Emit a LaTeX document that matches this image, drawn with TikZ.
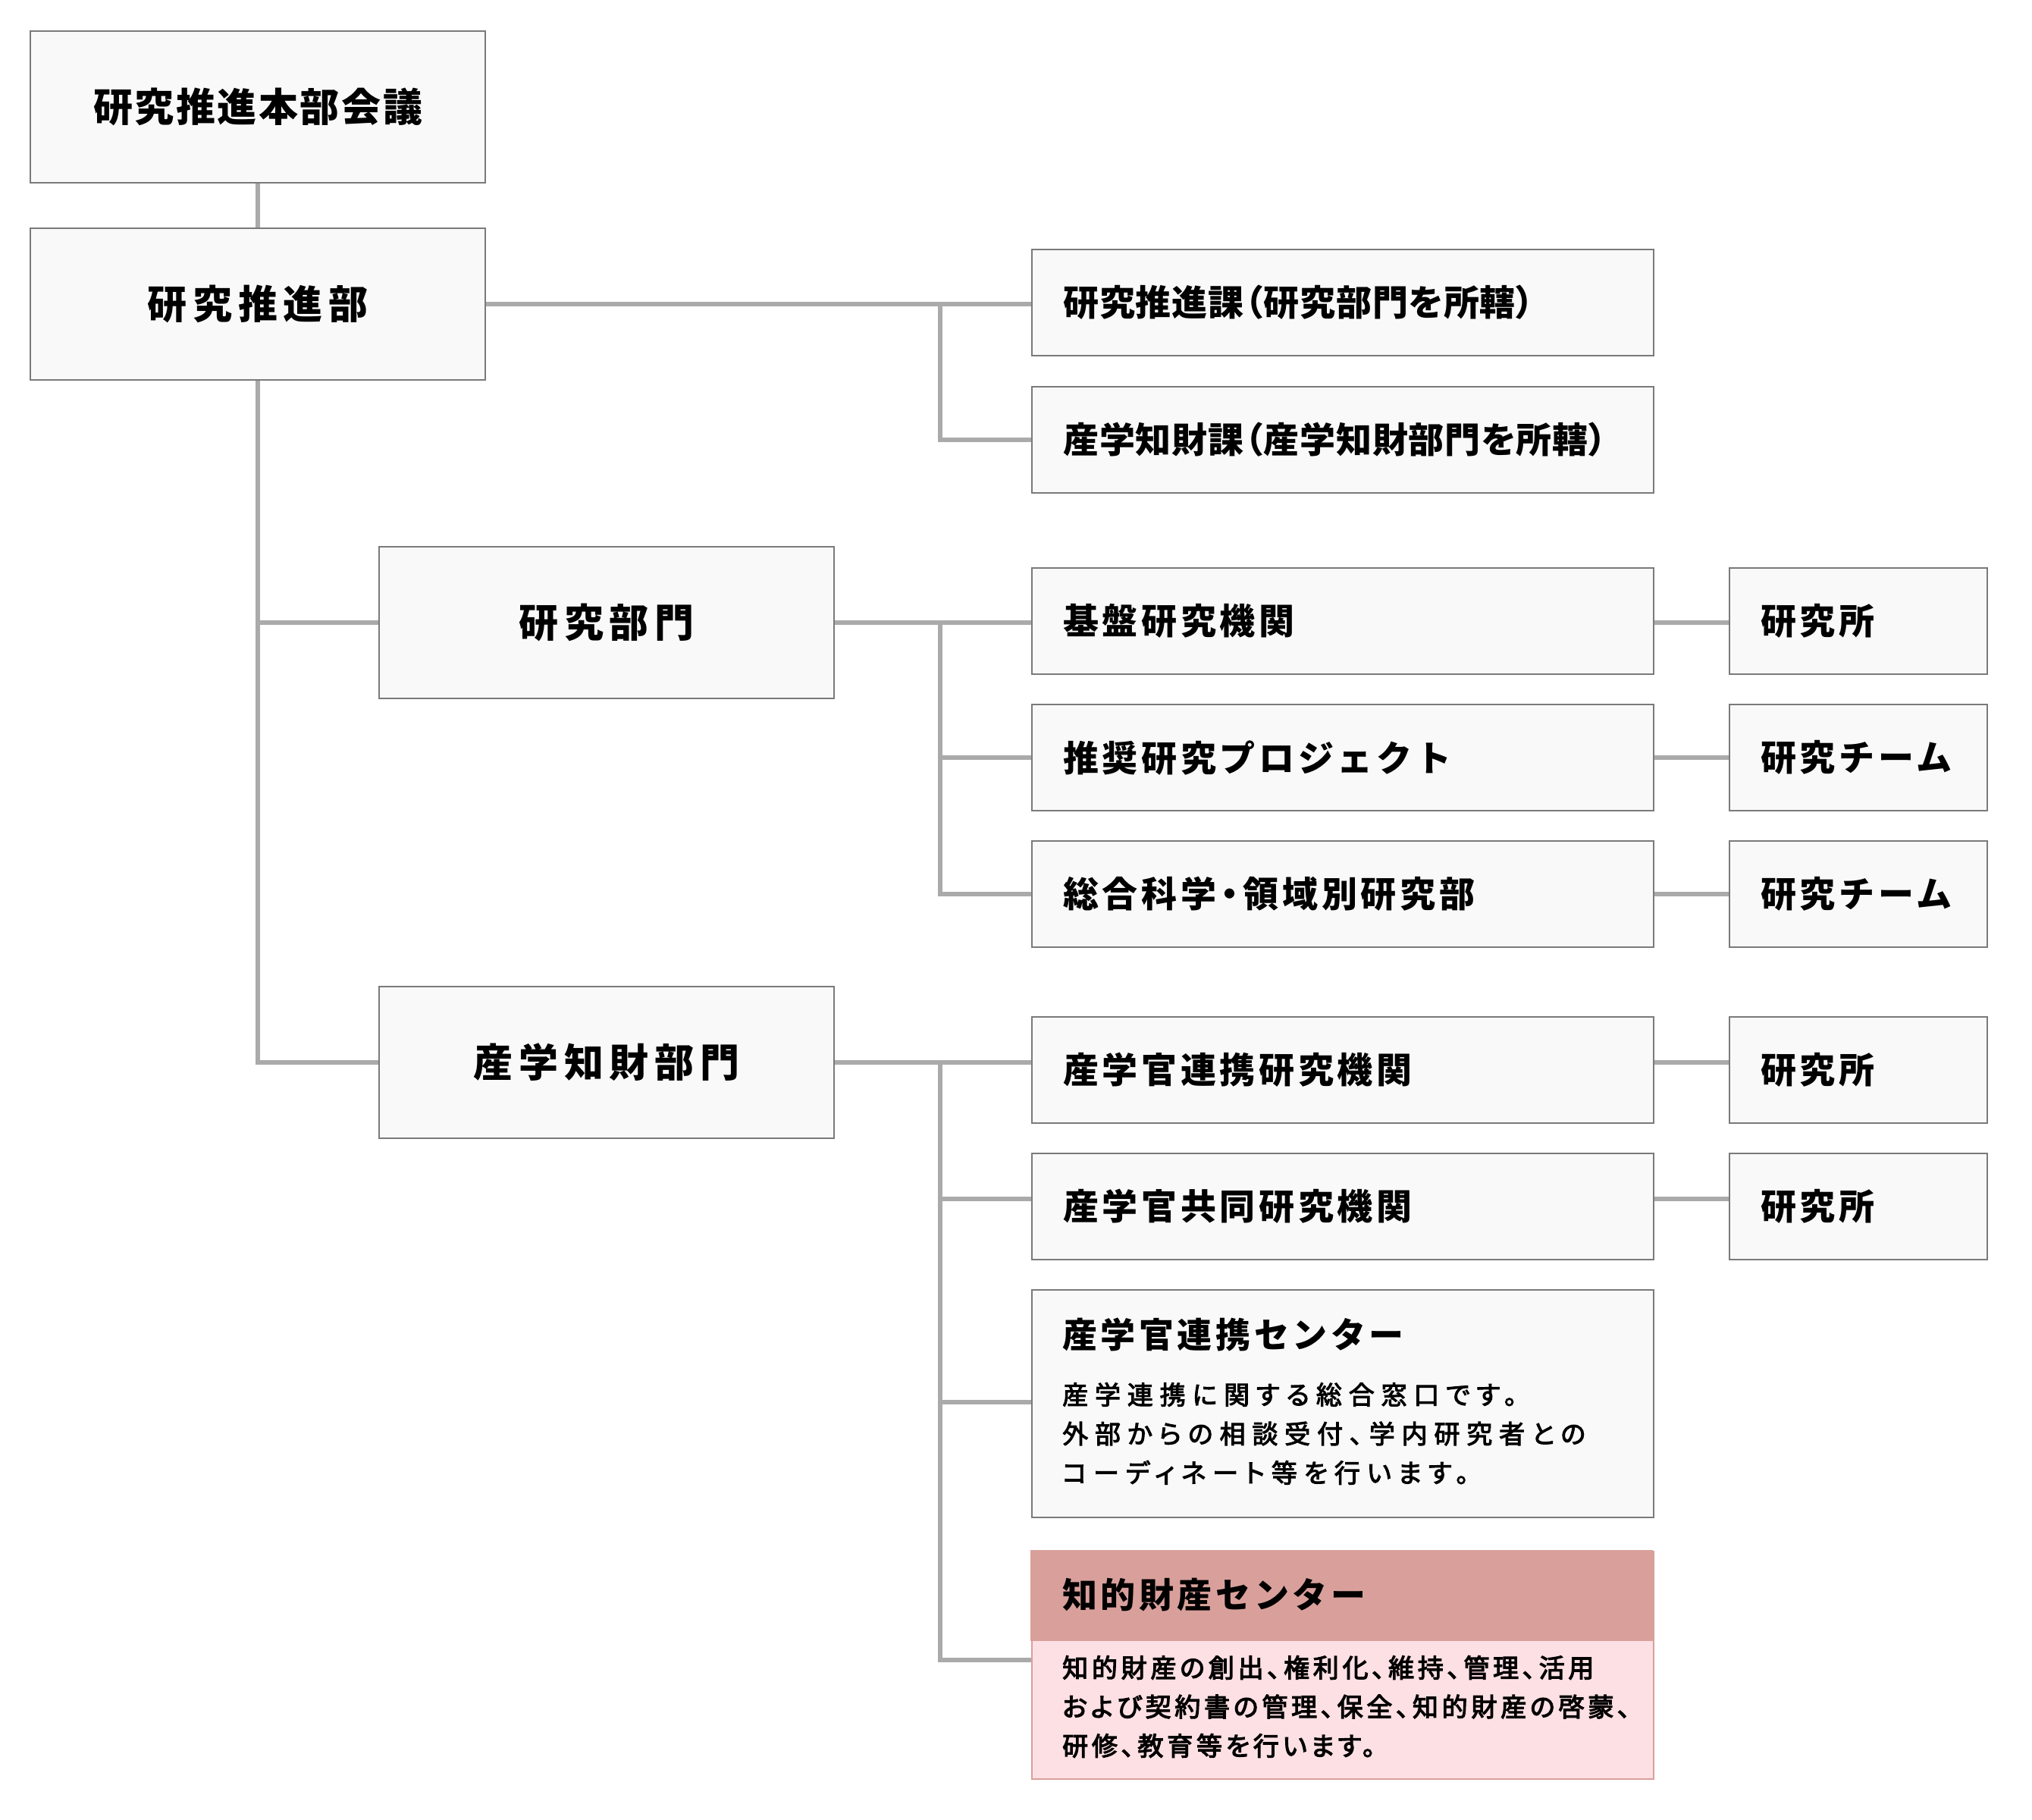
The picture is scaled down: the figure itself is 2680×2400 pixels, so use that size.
\documentclass[tikz,border=0pt]{standalone}
\usepackage{fontspec}
\setmainfont{Noto Sans CJK JP}
\newfontfamily\fA[LetterSpace=5]{Noto Sans CJK JP}
\newfontfamily\fB[LetterSpace=15]{Noto Sans CJK JP}
\newfontfamily\fE[LetterSpace=10]{Noto Sans CJK JP}
\newfontfamily\fEp[LetterSpace=10,RawFeature=+palt]{Noto Sans CJK JP}
\newfontfamily\fC[LetterSpace=2,RawFeature=+palt]{Noto Sans CJK JP}
\newfontfamily\fG[LetterSpace=26,RawFeature=+palt,FakeBold=3]{Noto Sans CJK JP}
\newfontfamily\fP[LetterSpace=14,RawFeature=+palt,FakeBold=3.5]{Noto Sans CJK JP}
\usetikzlibrary{calc}
\definecolor{boxfill}{HTML}{F9F9F9}
\definecolor{boxborder}{HTML}{7A7A7A}
\definecolor{conncol}{HTML}{AAAAAA}
\definecolor{pinkhead}{HTML}{D9A09B}
\definecolor{pinkbody}{HTML}{FDE0E4}
\begin{document}
\begin{tikzpicture}[x=1pt,y=-1pt,
  box/.style={draw=boxborder, fill=boxfill, line width=2.2, inner sep=0, anchor=north west},
  mainbox/.style={box, minimum width=600, minimum height=200, font=\fB\bfseries\fontsize{52}{62}\selectfont},
  subbox/.style={box, minimum width=820, minimum height=140, text width=738, inner xsep=41, align=left, font=\fE\bfseries\fontsize{47}{56}\selectfont},
  sidebox/.style={box, minimum width=340, minimum height=140, text width=258, inner xsep=41, align=left, font=\fE\bfseries\fontsize{47}{56}\selectfont},
  conn/.style={draw=conncol, line width=6},
  titletxt/.style={anchor=west, inner sep=0, font=\fE\bfseries\fontsize{46}{56}\selectfont},
  desctxt/.style={anchor=north west, inner sep=0, text width=800, align=left},
]
\useasboundingbox (0,0) rectangle (2680,2400);
\fill[white] (0,0) rectangle (2680,2400);

\coordinate (j1) at (1240,400);

% boxes
\node[mainbox, font=\fA\bfseries\fontsize{52}{62}\selectfont] (a) at (39,40) {研究推進本部会議};
\node[mainbox] (b) at (39,300) {研究推進部};
\node[mainbox] (d) at (499,720) {研究部門};
\node[mainbox] (f) at (499,1300) {産学知財部門};

\node[subbox, font=\fC\bfseries\fontsize{47}{56}\selectfont] (c1) at (1360,328) {研究推進課（研究部門を所轄）};
\node[subbox, font=\fC\bfseries\fontsize{47}{56}\selectfont] (c2) at (1360,509) {産学知財課（産学知財部門を所轄）};

\node[subbox] (e1) at (1360,748) {基盤研究機関};
\node[subbox] (e2) at (1360,928) {推奨研究プロジェクト};
\node[subbox] (e3) at (1360,1108) {総合科学\hspace{6pt}{\fEp ・}\hspace{6pt}領域別研究部};
\node[sidebox] (r1) at (2280,748) {研究所};
\node[sidebox] (r2) at (2280,928) {研究チーム};
\node[sidebox] (r3) at (2280,1108) {研究チーム};

\node[subbox] (g1) at (1360,1340) {産学官連携研究機関};
\node[subbox] (g2) at (1360,1520) {産学官共同研究機関};
\node[sidebox] (r4) at (2280,1340) {研究所};
\node[sidebox] (r5) at (2280,1520) {研究所};

\node[box, minimum width=820, minimum height=300] (g3) at (1360,1700) {};
\node[titletxt] (g3t) at ($(g3.north west)+(41,60)$) {産学官連携センター};
\node[desctxt, font=\fG\fontsize{34}{51.5}\selectfont] (g3d) at ($(g3.north west)+(41,123)$)
  {産学連携に関する総合窓口です。\\外部からの相談受付、学内研究者との\\コーディネート等を行います。};

\node[box, draw=pinkhead, fill=pinkbody, minimum width=820, minimum height=300] (g4) at (1360,2045) {};
\node[anchor=north west, fill=pinkhead, inner sep=0, minimum width=821.1, minimum height=120] (g4h) at ($(g4.north west)+(-1.1,-1.1)$) {};
\node[titletxt] (g4t) at ($(g4.north west)+(41,58)$) {知的財産センター};
\node[desctxt, font=\fP\fontsize{34}{51.5}\selectfont] (g4d) at ($(g4.north west)+(41,138)$)
  {知的財産の創出、権利化、維持、管理、活用\\および契約書の管理、保全、知的財産の啓蒙、\\研修、教育等を行います。};

% connectors
\coordinate (je2) at (e2.west -| j1);
\coordinate (g2c) at ($(g2.west)+(0,-10)$);
\coordinate (g3c) at ($(g3.west)+(0,-2)$);
\coordinate (g4c) at ($(g4.west)+(0,-7)$);

\draw[conn] (a.south) -- (b.north);
\draw[conn] (b.east) -- (b.east -| c1.west);
\draw[conn] (b.east -| j1) |- (c2.west);
\draw[conn] (b.south) |- (f.west);
\draw[conn] (b.south |- d.west) -- (d.west);

\draw[conn] (d.east) -- (d.east -| e1.west);
\draw[conn] (d.east -| j1) |- (e3.west);
\draw[conn] (je2) -- (e2.west);
\draw[conn] (e1.east |- d.east) -- (r1.west |- d.east);
\draw[conn] (e2.east) -- (r2.west);
\draw[conn] (e3.east) -- (r3.west);

\draw[conn] (f.east) -- (f.east -| g1.west);
\draw[conn] (f.east -| j1) |- (g4c);
\draw[conn] (g2c -| j1) -- (g2c);
\draw[conn] (g3c -| j1) -- (g3c);
\draw[conn] (g1.east |- f.east) -- (r4.west |- f.east);
\draw[conn] (g2.east |- g2c) -- (r5.west |- g2c);
\end{tikzpicture}
\end{document}
